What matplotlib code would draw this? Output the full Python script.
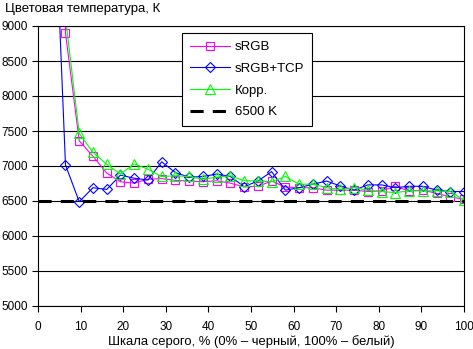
import numpy as np
import matplotlib.pyplot as plt

plt.rcParams['font.family'] = ['Liberation Sans', 'DejaVu Sans']

# gray levels, % (step 100/31)
steps = np.arange(1, 32)
gray = steps * 100 / 31

srgb = [30000, 8900, 7360, 7140, 6900, 6775, 6755, 6810, 6820, 6795, 6785,
        6775, 6790, 6755, 6700, 6710, 6785, 6700, 6690, 6690, 6655, 6655,
        6655, 6635, 6645, 6710, 6645, 6655, 6610, 6560, 6525]
srgb_tcp = [11800, 7015, 6490, 6690, 6665, 6870, 6825, 6800, 7060, 6905, 6840,
            6850, 6885, 6850, 6705, 6785, 6920, 6655, 6690, 6740, 6785, 6715,
            6655, 6730, 6730, 6690, 6710, 6710, 6655, 6635, 6635]
korr = [25000, 9120, 7465, 7195, 7025, 6885, 7030, 6955, 6850, 6860, 6850,
        6810, 6840, 6860, 6790, 6785, 6775, 6850, 6740, 6740, 6690, 6665,
        6690, 6655, 6635, 6620, 6645, 6645, 6645, 6635, 6515]
target = 6500

fig = plt.figure(figsize=(4.73, 3.49), dpi=100)
ax = fig.add_axes([38/473, 1 - 306/349, 426/473, 280/349])

ax.plot(gray, srgb, color='#FF00FF', lw=0.8, marker='s', ms=6,
        mfc='none', mec='#FF00FF', mew=0.8, label='sRGB')
ax.plot(gray, srgb_tcp, color='#0000FF', lw=0.8, marker='D', ms=5,
        mfc='none', mec='#0000FF', mew=0.8, label='sRGB+TCP')
ax.plot(gray, korr, color='#00FF00', lw=0.8, marker='^', ms=6.5,
        mfc='none', mec='#00FF00', mew=0.8, label='Корр.')
ax.axhline(target, color='black', lw=2.2, dashes=(4.3, 3), label='6500 K')

ax.set_xlim(0, 100)
ax.set_ylim(5000, 9000)
ax.set_xticks(np.arange(0, 101, 10))
ax.set_yticks(np.arange(5000, 9001, 500))
ax.yaxis.grid(True, color='black', lw=0.8)
ax.set_axisbelow(True)
for s in ax.spines.values():
    s.set_linewidth(0.8)
ax.tick_params(direction='out', length=4, width=0.8, labelsize=8.5, pad=3)
ax.tick_params(axis='x', pad=6.5)

ax.set_xlabel('Шкала серого, % (0% – черный, 100% – белый)', fontsize=9.4, labelpad=2)
fig.text(5/473, 1 - 9/349, 'Цветовая температура, К', fontsize=9.5, va='center', ha='left')

leg = ax.legend(loc='upper left', bbox_to_anchor=((182-38)/426, (306-33)/280),
                borderaxespad=0, fontsize=9.5, frameon=True, fancybox=False,
                edgecolor='black', framealpha=1, borderpad=0.6, labelspacing=0.72,
                handlelength=3.0, handletextpad=0.4)
leg.get_frame().set_linewidth(0.8)

fig.savefig('out.png', dpi=100)
